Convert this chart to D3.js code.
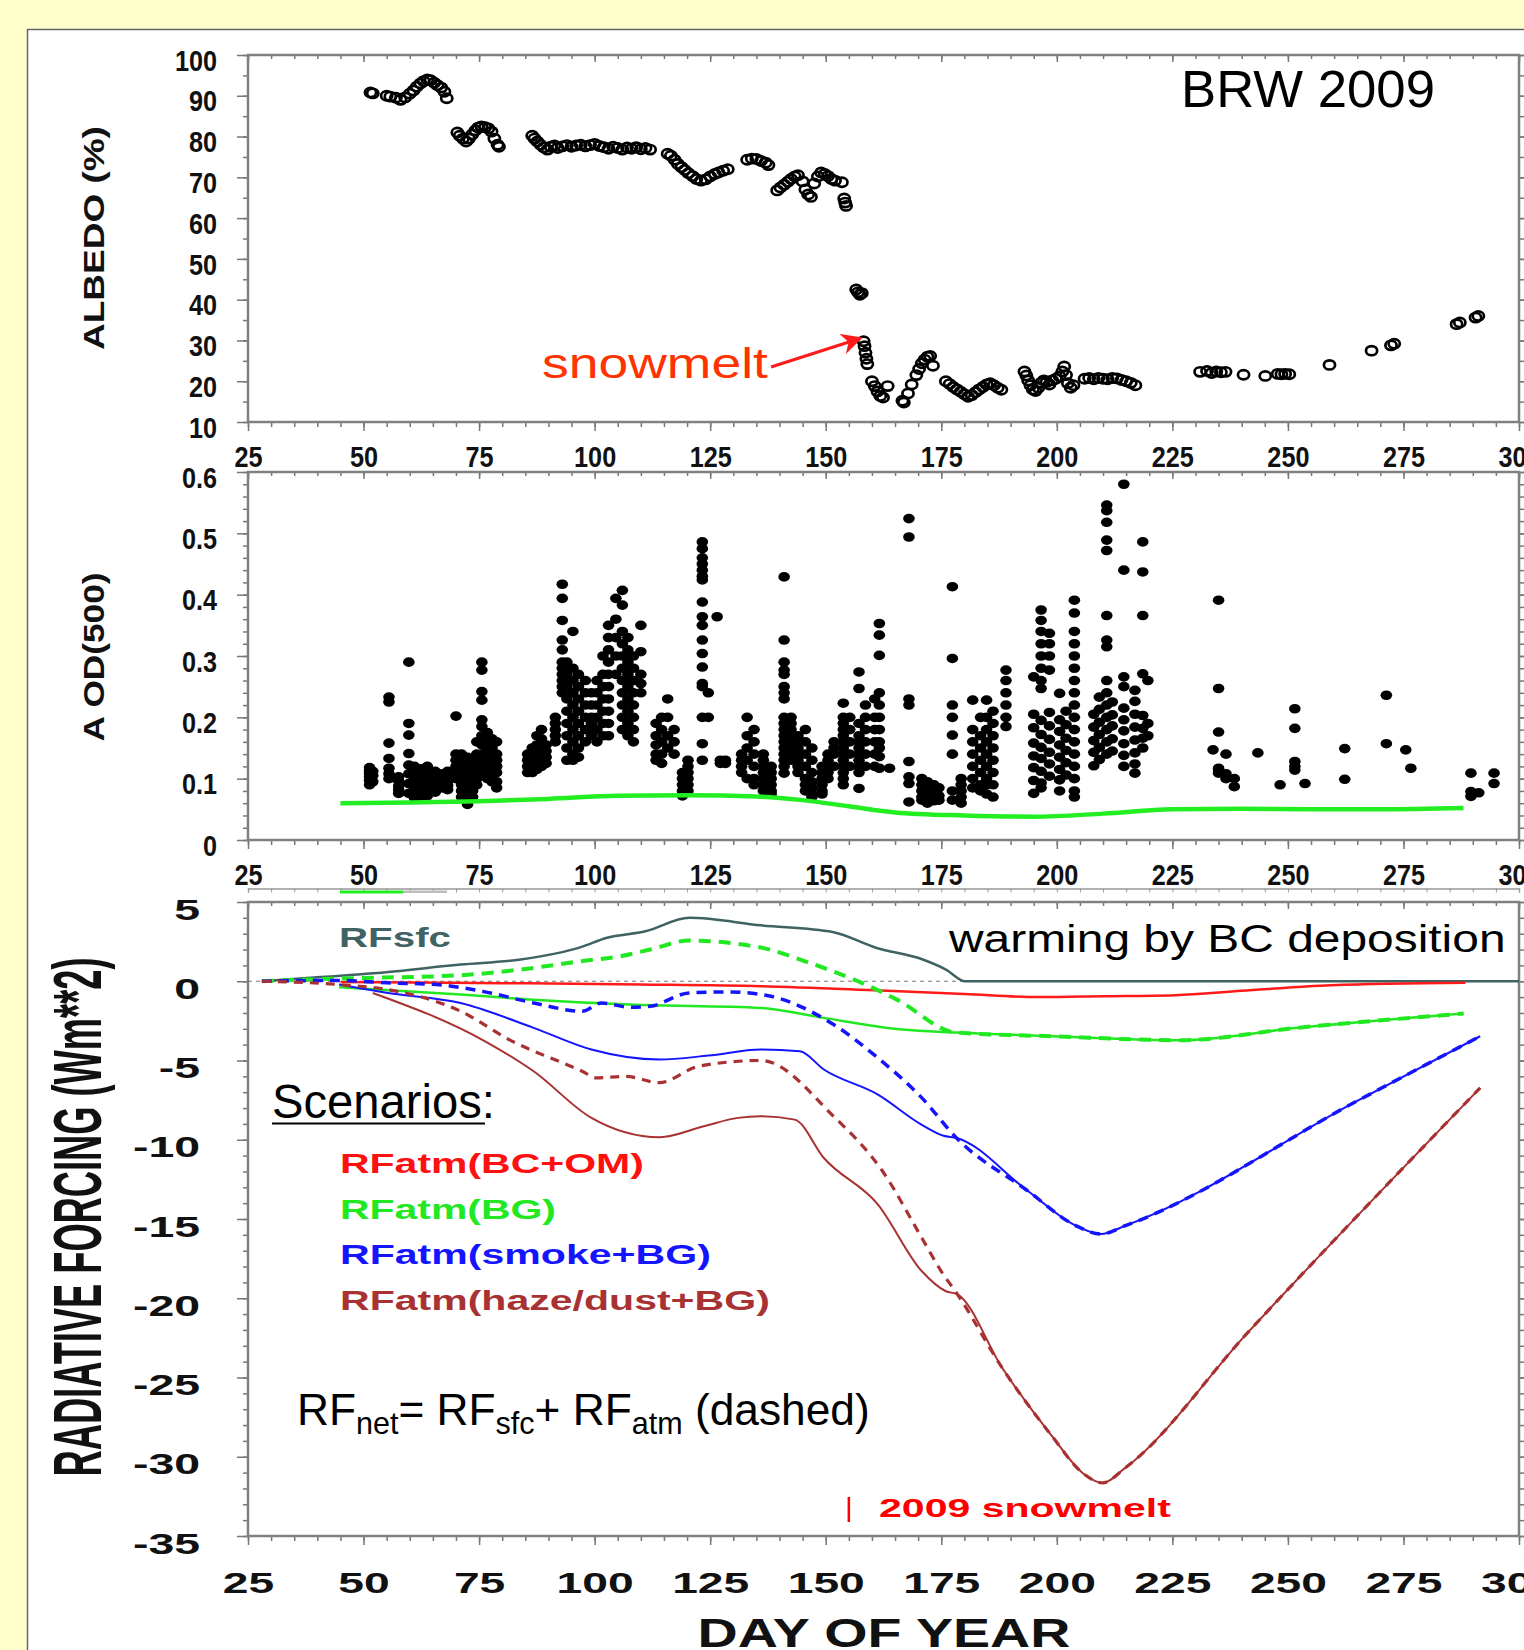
<!DOCTYPE html>
<html>
<head>
<meta charset="utf-8">
<script src="https://cdn.jsdelivr.net/npm/d3@7"></script>
<style>
  body { margin: 0; background: #ffffcc; overflow: hidden; }
  svg { display: block; }
</style>
</head>
<body>
<svg id="chart"></svg>
<script>
// ---- data ----
// albedo (%) by day of year
const albedoPts = [
  [51.5,90.8],[52,90.6],[55,90.0],[55.8,89.8],[57,89.5],[58,89.0],[59,89.6],[60,90.5],[60.8,91.3],[61.5,92.2],
  [62.3,93.0],[63,93.6],[63.8,94.0],[64.5,93.8],[65.3,93.2],[66,92.6],[66.8,92.0],[67.5,91.0],[68,89.4],
  [70.3,81.0],[70.8,80.2],[71.5,79.5],[72.2,78.8],[72.8,79.5],[73.5,80.5],[74.2,81.5],[74.8,82.2],[75.5,82.5],
  [76.3,82.3],[77,82.0],[77.7,81.2],[78.3,79.5],[79,78.0],[79.3,77.5],
  [86.5,80.2],[87,79.5],[87.6,78.8],[88.3,78.0],[89,77.3],[89.8,76.8],[90.5,77.5],[91.3,77.8],[92,77.2],[93,77.6],
  [94,77.9],[95,77.5],[96,77.8],[97,78.0],[98,77.6],[99,77.9],[100,78.2],[101,77.7],[102,77.4],[103,77.0],
  [104,77.5],[105,77.2],[106,76.8],[107,77.3],[108,77.0],[109,77.4],[110,76.9],[111,77.2],[112,76.8],
  [115.8,75.8],[116.5,75.3],[117.3,74.3],[118,73.3],[118.8,72.5],[119.5,71.8],[120.3,71.0],[121.2,70.3],[122,69.6],
  [123,69.2],[124,69.5],[125,70.2],[126,70.8],[126.8,71.2],[127.8,71.6],[128.8,72.0],
  [133,74.3],[134,74.6],[135,74.5],[136,74.0],[137,73.6],[137.6,73.0],
  [139.5,66.8],[140.2,67.5],[141,68.2],[141.8,68.9],[142.5,69.6],[143.3,70.2],[144,70.5],[145,69.0],[145.6,67.0],
  [146.2,65.8],[146.8,65.2],[147.5,68.5],[148.3,70.2],[149,71.2],[149.8,70.8],[150.5,70.3],[151.2,69.6],[152,69.2],
  [153.5,68.8],[154,64.8],[154.2,63.8],[154.4,63.0],
  [156.6,42.5],[157,41.8],[157.4,41.2],[157.8,41.6],
  [158.2,29.8],[158.4,28.6],[158.6,27.0],[158.8,25.5],[159,24.2],[160,20.0],[160.6,18.8],[161.2,17.5],[161.8,16.4],
  [162.4,16.0],[163.4,18.8],
  [166.6,15.2],[166.9,14.8],[167.8,17.0],[168.6,19.2],[169.6,21.5],[170.2,23.0],[170.8,24.4],[171.4,25.3],[172,26.0],
  [172.6,26.2],[173.2,23.8],
  [176,20.0],[176.8,19.3],[177.6,18.6],[178.4,18.0],[179.2,17.4],[180,16.8],[180.8,16.2],[181.6,16.6],[182.4,17.3],
  [183.2,18.0],[184,18.6],[184.8,19.2],[185.6,19.5],[186.4,19.0],[187.2,18.4],[188,17.9],
  [193,22.4],[193.4,21.4],[193.8,20.2],[194.3,19.0],[194.8,18.0],[195.4,17.6],[196,18.4],[196.6,19.6],[197.2,20.2],
  [197.8,19.8],[198.4,19.2],[199,20.2],[199.8,20.6],[200.6,21.2],[201.2,22.4],[201.6,23.6],[202,21.5],[202.4,19.5],
  [203,18.4],[203.6,19.0],
  [206,20.6],[207,20.8],[208,20.5],[209,20.8],[210,20.6],[211,20.5],[212,20.8],[213,20.7],[214,20.3],[215,20.0],
  [216,19.6],[217,19.0],
  [231,22.3],[232.5,22.5],[233.5,22.0],[234.5,22.4],[235.5,22.2],[236.5,22.3],[240.4,21.6],[245.1,21.3],[247.8,21.8],
  [248.6,21.7],[249.4,21.8],[250.3,21.7],[259,24.0],[268.1,27.5],[272.3,28.8],[273,29.2],[286.5,34.0],[287.2,34.4],
  [290.6,35.6],[291.2,36.0]
];

// AOD(500): day -> observed values that day
const aodPts = [
  [51.3,[0.09,0.097,0.103,0.108,0.113,0.118]], [52,[0.095,0.105,0.112]],
  [55.5,[0.233,0.225,0.158,0.133,0.117,0.108,0.10]], [57.6,[0.103,0.096,0.088,0.082,0.076]],
  [59.8,[0.29,0.19,0.171,0.141,0.122,0.108,0.092,0.076]], [61,[0.12,0.11,0.1,0.09,0.083,0.075,0.069]],
  [62.5,[0.116,0.105,0.095,0.087,0.078,0.07]], [63.8,[0.12,0.11,0.1,0.09,0.08,0.072]],
  [65.5,[0.112,0.1,0.092,0.085,0.078]], [67,[0.108,0.1,0.093,0.085]], [68.2,[0.112,0.104,0.096,0.089,0.082]],
  [70,[0.202,0.14,0.13,0.12,0.11,0.1]], [71.2,[0.14,0.13,0.12,0.11,0.1,0.09,0.08,0.07]],
  [72.5,[0.135,0.125,0.115,0.105,0.095,0.085,0.075,0.065,0.058]], [73.6,[0.12,0.11,0.1,0.09,0.08,0.07]],
  [74.5,[0.16,0.14,0.13,0.12,0.11,0.1,0.09]],
  [75.6,[0.29,0.277,0.242,0.228,0.196,0.185,0.17,0.155,0.14,0.13,0.12,0.11]],
  [76.8,[0.175,0.16,0.145,0.13,0.12,0.11,0.1]], [77.8,[0.165,0.15,0.14,0.125,0.115,0.105,0.095]],
  [78.8,[0.16,0.14,0.13,0.12,0.11,0.095,0.085]],
  [85.5,[0.14,0.13,0.12,0.11]], [86.5,[0.15,0.14,0.13,0.12,0.11]], [87.5,[0.17,0.155,0.14,0.13,0.12,0.115]],
  [88.5,[0.18,0.165,0.15,0.14,0.13,0.12]], [89.5,[0.155,0.145,0.135,0.125]], [91.5,[0.2,0.19,0.18,0.17,0.16]],
  [93,[0.417,0.394,0.358,0.326,0.31,0.29,0.28,0.27,0.26,0.25,0.24]],
  [94,[0.29,0.27,0.25,0.23,0.21,0.19,0.17,0.15,0.13]],
  [95.3,[0.34,0.28,0.26,0.24,0.22,0.2,0.18,0.16,0.14,0.13]],
  [96.5,[0.27,0.25,0.23,0.21,0.19,0.17,0.15,0.135]], [98,[0.26,0.24,0.22,0.2,0.18,0.16]],
  [99.3,[0.24,0.22,0.2,0.19,0.18,0.17]], [100.5,[0.26,0.24,0.22,0.2,0.18,0.16]],
  [101.8,[0.3,0.27,0.25,0.23,0.21,0.19,0.17]], [103,[0.35,0.33,0.31,0.29,0.27,0.25,0.23,0.21,0.19,0.17]],
  [104.6,[0.394,0.36,0.33,0.3,0.27]], [106,[0.407,0.383,0.34,0.32,0.3,0.28,0.26,0.24,0.22,0.2,0.18]],
  [107.2,[0.33,0.31,0.29,0.27,0.25,0.23,0.21,0.19,0.17]], [108.4,[0.3,0.28,0.26,0.24,0.22,0.2,0.18,0.16]],
  [110,[0.35,0.307,0.27,0.255,0.24]],
  [113.3,[0.19,0.17,0.155,0.14,0.13]], [114.5,[0.2,0.18,0.16,0.14,0.125]], [115.8,[0.23,0.2,0.17,0.15]],
  [117.2,[0.18,0.16,0.14]], [119,[0.11,0.1,0.09,0.08,0.072]], [120.2,[0.13,0.12,0.11,0.1,0.09,0.08]],
  [123.3,[0.486,0.475,0.46,0.45,0.44,0.43,0.424,0.388,0.364,0.35,0.326,0.304,0.282,0.255,0.25,0.2,0.157,0.13]],
  [124.6,[0.24,0.2]], [126.5,[0.364]], [127.2,[0.13,0.125]], [128.3,[0.13,0.125]],
  [131.8,[0.14,0.13,0.12,0.11]], [133,[0.2,0.17,0.15,0.13,0.1]], [134.5,[0.18,0.16,0.14,0.12,0.1,0.09]],
  [136.5,[0.14,0.13,0.12,0.11,0.1,0.09,0.08]], [138.2,[0.12,0.11,0.1,0.09,0.08,0.075]],
  [141,[0.429,0.326,0.29,0.277,0.27,0.25,0.24,0.23,0.2,0.19,0.18,0.17,0.16,0.15,0.14,0.13,0.12,0.109]],
  [142.5,[0.2,0.19,0.18,0.17,0.16,0.15,0.14,0.13]], [144,[0.17,0.16,0.15,0.14,0.13,0.12,0.11]],
  [145.6,[0.18,0.16,0.14,0.12,0.1,0.09,0.08]], [147,[0.15,0.13,0.11,0.095,0.085,0.075,0.07]],
  [149.2,[0.12,0.11,0.1,0.09,0.08,0.075]], [150.5,[0.14,0.13,0.12,0.11,0.1]], [151.8,[0.16,0.15,0.14,0.12]],
  [153.8,[0.223,0.2,0.19,0.18,0.17,0.16,0.15,0.14,0.13,0.12,0.11,0.1,0.09]],
  [155.2,[0.2,0.18,0.16,0.14,0.12]],
  [157.2,[0.274,0.247,0.19,0.17,0.16,0.15,0.14,0.13,0.12,0.11,0.084]],
  [158.6,[0.22,0.2,0.18,0.16,0.14,0.12]], [160.6,[0.23,0.2,0.18,0.16,0.14,0.12]],
  [161.6,[0.353,0.334,0.301,0.24,0.22,0.2,0.18,0.16,0.15,0.136,0.117]], [163.8,[0.117]],
  [168,[0.524,0.494,0.23,0.22,0.128,0.103,0.092,0.062]],
  [170.8,[0.1,0.09,0.08,0.07,0.065]], [172,[0.095,0.085,0.075,0.068,0.06]], [173.4,[0.09,0.08,0.07,0.064]],
  [174.5,[0.085,0.072,0.065]],
  [177.4,[0.413,0.296,0.22,0.2,0.171,0.14,0.08,0.065]], [179.3,[0.1,0.09,0.08,0.07,0.06]],
  [181.8,[0.228,0.18,0.16,0.14,0.12,0.1,0.085]], [183.5,[0.2,0.17,0.15,0.13,0.11,0.09,0.08]],
  [184.8,[0.228,0.2,0.18,0.16,0.14,0.12,0.1,0.09,0.075]], [186.2,[0.21,0.19,0.17,0.15,0.13,0.11,0.09,0.07]],
  [189,[0.277,0.26,0.24,0.22,0.2,0.185]],
  [195,[0.266,0.205,0.183,0.158,0.137,0.118,0.097,0.076]],
  [196.6,[0.375,0.358,0.34,0.32,0.3,0.28,0.26,0.247,0.195,0.172,0.151,0.133,0.112,0.093,0.085]],
  [198.4,[0.337,0.32,0.3,0.277,0.208,0.186,0.164,0.143,0.124,0.104]],
  [200.6,[0.239,0.196,0.177,0.155,0.135,0.115,0.098,0.08]], [202,[0.21,0.188,0.166,0.146,0.126,0.106]],
  [203.8,[0.391,0.37,0.34,0.32,0.3,0.28,0.26,0.24,0.22,0.2,0.18,0.16,0.14,0.12,0.1,0.08,0.07]],
  [208,[0.205,0.184,0.162,0.143,0.121]], [209.2,[0.233,0.213,0.192,0.172,0.151,0.131]],
  [210.8,[0.546,0.537,0.518,0.489,0.472,0.366,0.326,0.315,0.26,0.24,0.22,0.2,0.18,0.16,0.14]],
  [212,[0.225,0.204,0.186,0.165,0.145]],
  [214.5,[0.58,0.44,0.266,0.25,0.215,0.196,0.178,0.157,0.138,0.12]],
  [216.9,[0.244,0.226,0.205,0.184,0.163,0.142,0.124,0.109]],
  [218.6,[0.486,0.437,0.366,0.271,0.203,0.182,0.166,0.15]], [219.7,[0.26,0.19,0.17]],
  [233.8,[0.147]], [235,[0.391,0.247,0.176,0.117,0.113,0.109]], [236.6,[0.14,0.108,0.1]],
  [238.4,[0.1,0.087]], [243.5,[0.142]], [248.3,[0.09]], [251.5,[0.214,0.182,0.128,0.12,0.114]],
  [253.7,[0.092]], [262.3,[0.149,0.099]], [271.3,[0.236,0.157]], [275.5,[0.147]], [276.6,[0.117]],
  [289.6,[0.109,0.079,0.071]], [291.3,[0.077]], [294.6,[0.109,0.092]]
];

// background AOD (green line)
const aodBg = [[45,0.060],[60,0.061],[75,0.063],[90,0.067],[105,0.072],[120,0.073],[135,0.071],[145,0.065],
  [155,0.055],[165,0.045],[180,0.040],[195,0.038],[210,0.043],[225,0.050],[240,0.051],[255,0.050],[270,0.050],[288,0.052]];

// radiative forcing (W m-2)
const rfSfc = [[28,0],[40,0.25],[53,0.52],[71,1.05],[84,1.37],[97,2.15],[102.5,2.73],[111,3.15],[120.5,4.0],
  [136,3.53],[151.5,3.11],[161,2.1],[171,1.37],[176,0.74],[180.2,0],[300,0]];
const rfAtmBC = [[45,-0.04],[80,-0.12],[110,-0.2],[136,-0.31],[162,-0.59],[180,-0.8],[196,-1.0],[210,-0.95],
  [225.6,-0.88],[240,-0.6],[259.4,-0.25],[288.4,-0.1]];
const rfAtmBG = [[44.7,-0.38],[71,-0.84],[86.7,-1.16],[107.7,-1.47],[136,-1.68],[149.6,-2.31],[166.5,-3.05],
  [178.2,-3.24],[199,-3.47],[226.7,-3.72],[252,-2.94],[288,-2.04]];
const rfNetBG = [[28,0],[44.7,0.17],[71,0.38],[84,0.74],[97,1.26],[105.6,1.58],[112,2.0],[120.4,2.57],[132,2.32],
  [137,2.06],[146.5,1.16],[157,0],[165.4,-1.16],[178.2,-3.24],[199,-3.47],[226.7,-3.72],[252,-2.94],[288,-2.04]];
const rfAtmSmoke = [[44.7,-0.21],[55.3,-0.74],[71,-1.37],[86.8,-2.94],[99.3,-4.31],[114,-4.94],[124.6,-4.69],
  [136,-4.31],[144.4,-4.42],[149.6,-5.57],[161.3,-7.15],[170.7,-9.04],[175.5,-9.75],[178.3,-9.89],[193.6,-13.2],
  [204,-15.4],[209.5,-15.95],[215,-15.4],[265,-7.55],[291.6,-3.47]];
const rfNetSmoke = [[28,0],[44.7,0.05],[55,-0.1],[65.8,-0.21],[76.3,-0.67],[86.8,-1.37],[97.3,-1.89],[101.5,-1.37],
  [107.8,-1.64],[112,-1.58],[120.4,-0.74],[128.8,-0.67],[137,-0.88],[151.7,-2.73],[161.3,-4.84],[170.8,-7.36],
  [178.3,-9.89],[193.6,-13.2],[204,-15.4],[209.5,-15.95],[215,-15.4],[265,-7.55],[291.6,-3.47]];
const rfAtmHaze = [[52,-0.74],[76.3,-3.79],[86.8,-5.68],[99.3,-8.62],[114,-9.84],[123.6,-9.15],[131,-8.62],
  [136,-8.52],[143.3,-8.73],[149.6,-11.15],[161.3,-14.09],[170.8,-18.3],[176,-19.56],[178.5,-19.75],[188.2,-24.4],
  [198.7,-28.6],[205.9,-31.1],[209.9,-31.65],[214.8,-30.7],[241.2,-22.2],[276.5,-11.3],[291.6,-6.73]];
const rfNetHaze = [[28,0],[44.7,-0.21],[55.3,-0.53],[71,-1.89],[81.5,-3.68],[97.3,-5.68],[100.4,-6.1],[106.7,-6.0],
  [114,-6.4],[122.5,-5.36],[136,-5.0],[151.7,-8.52],[162.3,-11.99],[170.8,-16.2],[175,-18.3],[178.5,-19.75],
  [188.2,-24.4],[198.7,-28.6],[205.9,-31.1],[209.9,-31.65],[214.8,-30.7],[241.2,-22.2],[276.5,-11.3],[291.6,-6.73]];

const snowmeltDay = 155;
const arrowTarget = [158.2, 29.8];

const dayMajor = d3.range(25, 301, 25);
const dayMinor = d3.range(25, 301, 5);
const albMajor = d3.range(10, 101, 10);
const aodMajor = [0, 0.1, 0.2, 0.3, 0.4, 0.5, 0.6];
const rfMajor = d3.range(-35, 6, 5);

const legendItems = [
  {label: "RFatm(BC+OM)", color: "#ff1010", w: 304},
  {label: "RFatm(BG)", color: "#22e822", w: 216},
  {label: "RFatm(smoke+BG)", color: "#1414ff", w: 371},
  {label: "RFatm(haze/dust+BG)", color: "#a83232", w: 430}
];

// ---- layout ----
const width = 1524, height = 1650;
const font = "'Liberation Sans', Arial, Helvetica, sans-serif";

const svg = d3.select("#chart")
    .attr("width", width)
    .attr("height", height)
    .attr("viewBox", [0, 0, width, height])
    .style("font-family", font);

svg.append("rect").attr("width", width).attr("height", height).attr("fill", "#ffffcc");
svg.append("rect")
    .attr("x", 27.5).attr("y", 29.5)
    .attr("width", width).attr("height", height)
    .attr("fill", "#fff").attr("stroke", "#666").attr("stroke-width", 1.5);

const x = d3.scaleLinear().domain([25, 300]).range([248, 1519]);
const yAlb = d3.scaleLinear().domain([10, 100]).range([422, 55]);
const yAod = d3.scaleLinear().domain([0, 0.6]).range([840, 472]);
const yRf = d3.scaleLinear().domain([-35, 5]).range([1536, 902]);

const plain = d => String(d); // keeps an ascii hyphen for negatives

// stretch a text horizontally so it covers w pixels
function fitText(str, px, py, w, o) {
  const g = svg.append("g");
  const t = g.append("text")
      .attr("font-size", o.size)
      .attr("font-weight", o.weight || "normal")
      .attr("fill", o.fill || "#000")
      .attr("text-anchor", o.anchor || "start")
      .text(str);
  const sx = w / t.node().getBBox().width;
  g.attr("transform", `translate(${px},${py})${o.rotate ? " rotate(-90)" : ""} scale(${sx},1)`);
  return t;
}

function tickStyle(g) {
  g.select(".domain").remove();
  g.selectAll("line").attr("stroke", "#777").attr("stroke-width", 1.5);
}

// frame + ticks on the four sides of a panel
function frame(y, minorStep, majorVals) {
  const [yb, yt] = y.range();
  const yMinor = d3.range(y.domain()[0], y.domain()[1] + minorStep / 2, minorStep);
  svg.append("g").attr("transform", `translate(0,${yb})`)
      .call(d3.axisBottom(x).tickValues(dayMinor).tickSize(5).tickFormat("")).call(tickStyle);
  svg.append("g").attr("transform", `translate(0,${yb})`)
      .call(d3.axisBottom(x).tickValues(dayMajor).tickSize(9).tickFormat("")).call(tickStyle);
  svg.append("g").attr("transform", `translate(0,${yt})`)
      .call(d3.axisBottom(x).tickValues(dayMinor).tickSize(4).tickFormat("")).call(tickStyle);
  svg.append("g").attr("transform", `translate(0,${yt})`)
      .call(d3.axisBottom(x).tickValues(dayMajor).tickSize(7).tickFormat("")).call(tickStyle);
  svg.append("g").attr("transform", `translate(${x.range()[0]},0)`)
      .call(d3.axisLeft(y).tickValues(yMinor).tickSize(5).tickFormat("")).call(tickStyle);
  svg.append("g").attr("transform", `translate(${x.range()[0]},0)`)
      .call(d3.axisLeft(y).tickValues(majorVals).tickSize(11).tickFormat("")).call(tickStyle);
  svg.append("g").attr("transform", `translate(${x.range()[1]},0)`)
      .call(d3.axisLeft(y).tickValues(yMinor).tickSize(-6).tickFormat("")).call(tickStyle);
  svg.append("g").attr("transform", `translate(${x.range()[1]},0)`)
      .call(d3.axisLeft(y).tickValues(majorVals).tickSize(-12).tickFormat("")).call(tickStyle);
  svg.append("rect")
      .attr("x", x.range()[0]).attr("y", yt)
      .attr("width", x.range()[1] - x.range()[0]).attr("height", yb - yt)
      .attr("fill", "none").attr("stroke", "#808080").attr("stroke-width", 2.5);
}

function xLabels(yPos, base, size, sx) {
  svg.append("g").attr("transform", `translate(0,${yPos})`)
      .call(d3.axisBottom(x).tickValues(dayMajor).tickSize(0).tickFormat(plain))
      .call(g => g.select(".domain").remove())
      .attr("font-family", font)
    .selectAll("text")
      .attr("y", base).attr("dy", null)
      .attr("font-size", size).attr("font-weight", "bold").attr("fill", "#111")
      .attr("transform", `scale(${sx},1)`);
}

function yLabels(y, vals, fmt, gap, shift, size, sx) {
  svg.append("g").attr("transform", `translate(${x.range()[0]},0)`)
      .call(d3.axisLeft(y).tickValues(vals).tickSize(0).tickFormat(fmt))
      .call(g => g.select(".domain").remove())
      .attr("font-family", font)
    .selectAll("text")
      .attr("x", -gap / sx).attr("y", shift).attr("dy", "0.35em")
      .attr("font-size", size).attr("font-weight", "bold").attr("fill", "#111")
      .attr("transform", `scale(${sx},1)`);
}

// ---- panel 1: albedo ----
frame(yAlb, 5, albMajor);
xLabels(yAlb.range()[0], 45, 29, 0.87);
yLabels(yAlb, albMajor, plain, 31, 5, 29, 0.87);

svg.append("g")
    .attr("fill", "none").attr("stroke", "#000").attr("stroke-width", 2.7)
  .selectAll("ellipse")
  .data(albedoPts)
  .join("ellipse")
    .attr("cx", d => x(d[0])).attr("cy", d => yAlb(d[1]))
    .attr("rx", 5.6).attr("ry", 4.6);

fitText("ALBEDO (%)", 104, 238, 224, {size: 30, weight: "bold", anchor: "middle", rotate: true, fill: "#111"});
fitText("BRW 2009", 1181, 107, 254, {size: 51});
fitText("snowmelt", 542, 378, 226, {size: 43, fill: "#ff3300"});

svg.append("defs").append("marker")
    .attr("id", "arrow").attr("viewBox", "0 0 10 10")
    .attr("refX", 9).attr("refY", 5)
    .attr("markerWidth", 7).attr("markerHeight", 7)
    .attr("markerUnits", "strokeWidth")
    .attr("orient", "auto")
  .append("path").attr("d", "M0,0L10,5L0,10L3,5Z").attr("fill", "#ff1a1a");
svg.append("line")
    .attr("x1", 771).attr("y1", 367)
    .attr("x2", x(arrowTarget[0]) - 3).attr("y2", yAlb(arrowTarget[1]) - 3)
    .attr("stroke", "#ff1a1a").attr("stroke-width", 3)
    .attr("marker-end", "url(#arrow)");

// ---- panel 2: AOD ----
frame(yAod, 0.02, aodMajor);
xLabels(yAod.range()[0], 45, 29, 0.87);
yLabels(yAod, aodMajor, d => d === 0 ? "0" : d3.format(".1f")(d), 31, 5, 29, 0.87);

svg.append("g")
  .selectAll("g")
  .data(aodPts)
  .join("g")
  .selectAll("ellipse")
  .data(d => d[1].map(v => [d[0], v]))
  .join("ellipse")
    .attr("cx", d => x(d[0])).attr("cy", d => yAod(d[1]))
    .attr("rx", 5.8).attr("ry", 4.8)
    .attr("fill", "#000");

svg.append("path")
    .datum(aodBg)
    .attr("fill", "none").attr("stroke", "#22ee22").attr("stroke-width", 4.5)
    .attr("d", d3.line().x(d => x(d[0])).y(d => yAod(d[1])).curve(d3.curveMonotoneX));

fitText("A OD(500)", 104, 657, 169, {size: 30, weight: "bold", anchor: "middle", rotate: true, fill: "#111"});

// leftover strip between panel 2 and 3
svg.append("g").attr("transform", "translate(0,888.5)")
    .call(d3.axisBottom(x).tickValues(dayMinor).tickSize(4).tickFormat(""))
    .call(g => g.select(".domain").attr("stroke", "#999").attr("stroke-width", 1.5))
    .call(g => g.selectAll("line").attr("stroke", "#999"));
svg.append("rect").attr("x", 340).attr("y", 890.5).attr("width", 63).attr("height", 3).attr("fill", "#22ee22");
svg.append("rect").attr("x", 403).attr("y", 890.5).attr("width", 44).attr("height", 2.5).attr("fill", "#bbb");

// ---- panel 3: radiative forcing ----
frame(yRf, 1, rfMajor);
xLabels(yRf.range()[0], 57, 30, 1.54);
yLabels(yRf, rfMajor, plain, 48, 7, 29, 1.6);

svg.append("line")
    .attr("x1", x(25)).attr("x2", x(300)).attr("y1", yRf(0)).attr("y2", yRf(0))
    .attr("stroke", "#777").attr("stroke-width", 1).attr("stroke-dasharray", "4,4");

const line = d3.line().x(d => x(d[0])).y(d => yRf(d[1])).curve(d3.curveMonotoneX);

const solid = [
  [rfSfc, "#3f6262", 2.5],
  [rfAtmBC, "#ff1a1a", 2.5],
  [rfAtmBG, "#22e822", 2.5],
  [rfAtmSmoke, "#1414ff", 2],
  [rfAtmHaze, "#a83232", 2]
];
const dashed = [
  [rfNetBG, "#22e822", 4, "12,8"],
  [rfNetSmoke, "#1414ff", 3.5, "10,7"],
  [rfNetHaze, "#a83232", 3.2, "9,7"]
];

svg.append("g").attr("fill", "none").attr("stroke-linejoin", "round")
  .selectAll("path")
  .data(solid)
  .join("path")
    .attr("stroke", d => d[1]).attr("stroke-width", d => d[2])
    .attr("d", d => line(d[0]));

svg.append("g").attr("fill", "none")
  .selectAll("path")
  .data(dashed)
  .join("path")
    .attr("stroke", d => d[1]).attr("stroke-width", d => d[2])
    .attr("stroke-dasharray", d => d[3])
    .attr("d", d => line(d[0]));

fitText("RADIATIVE FORCING (Wm**2)", 101, 1217, 519, {size: 68, weight: "bold", anchor: "middle", rotate: true, fill: "#111"});
fitText("DAY OF YEAR", 884, 1647, 373, {size: 40, weight: "bold", anchor: "middle", fill: "#111"});
fitText("RFsfc", 339, 947, 112, {size: 27, weight: "bold", fill: "#3f6262"});
fitText("warming by BC deposition", 949, 952, 558, {size: 38});
fitText("Scenarios:", 272, 1118, 223, {size: 48});
svg.append("line").attr("x1", 272).attr("x2", 485).attr("y1", 1123.5).attr("y2", 1123.5)
    .attr("stroke", "#000").attr("stroke-width", 2.2);

legendItems.forEach((d, i) => {
  fitText(d.label, 340, 1173 + i * 45.7, d.w, {size: 28, weight: "bold", fill: d.color});
});

// RFnet = RFsfc + RFatm
{
  const g = svg.append("g");
  const t = g.append("text").attr("font-size", 45);
  t.append("tspan").text("RF");
  t.append("tspan").attr("font-size", 31).attr("dy", 9).text("net");
  t.append("tspan").attr("dy", -9).text("= RF");
  t.append("tspan").attr("font-size", 31).attr("dy", 9).text("sfc");
  t.append("tspan").attr("dy", -9).text("+ RF");
  t.append("tspan").attr("font-size", 31).attr("dy", 9).text("atm");
  t.append("tspan").attr("dy", -9).text(" (dashed)");
  const sx = 573 / t.node().getBBox().width;
  g.attr("transform", `translate(297,1425) scale(${sx},1)`);
}

svg.append("line")
    .attr("x1", x(snowmeltDay)).attr("x2", x(snowmeltDay))
    .attr("y1", 1497).attr("y2", 1522)
    .attr("stroke", "#ff0000").attr("stroke-width", 2.5);
fitText("2009 snowmelt", 879, 1517, 293, {size: 25, weight: "bold", fill: "#ff0000"});
</script>
</body>
</html>
